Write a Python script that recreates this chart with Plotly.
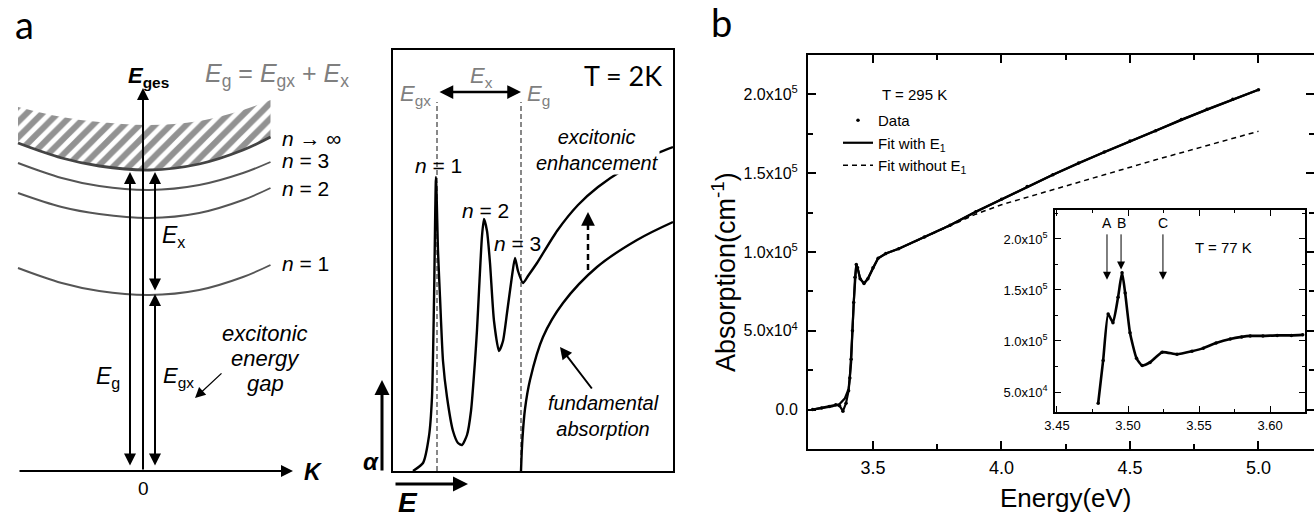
import plotly.graph_objects as go

W, H = 1314, 521

# ---------------- panel b : main spectrum, T = 295 K ----------------
data_energy = [3.265, 3.30, 3.33, 3.355, 3.37, 3.383, 3.395, 3.405, 3.41, 3.415, 3.42, 3.425,
               3.43, 3.435, 3.44, 3.45, 3.465, 3.48, 3.50, 3.52, 3.55, 3.60, 3.70, 3.80, 3.90,
               4.00, 4.10, 4.20, 4.30, 4.40, 4.50, 4.60, 4.70, 4.80, 4.90, 5.00]
data_absorption = [0, 1e3, 2e3, 3e3, 2.5e3, -1e3, 4e3, 1.2e4, 2.0e4, 3.2e4, 5.0e4, 6.8e4,
                   8.4e4, 9.2e4, 9.0e4, 8.3e4, 8.0e4, 8.3e4, 9.0e4, 9.6e4, 9.9e4, 1.02e5, 1.095e5,
                   1.17e5, 1.255e5, 1.335e5, 1.415e5, 1.49e5, 1.565e5, 1.635e5, 1.705e5, 1.77e5,
                   1.84e5, 1.905e5, 1.97e5, 2.03e5]
fit_with_energy = [3.265, 3.30, 3.34, 3.37, 3.39, 3.405, 3.415, 3.42, 3.425, 3.43, 3.435, 3.44,
                   3.45, 3.465, 3.48, 3.50, 3.52, 3.55, 3.60, 3.70, 3.80, 3.90, 4.00, 4.20, 4.40,
                   4.60, 4.80, 5.00]
fit_with_abs = [0, 1e3, 2e3, 3.5e3, 7e3, 1.3e4, 3.0e4, 5.0e4, 6.8e4, 8.4e4, 9.2e4, 9.0e4,
                8.3e4, 8.0e4, 8.3e4, 9.0e4, 9.6e4, 9.9e4, 1.02e5, 1.095e5, 1.17e5, 1.255e5,
                1.335e5, 1.49e5, 1.635e5, 1.77e5, 1.905e5, 2.03e5]
fit_without_energy = [3.60, 3.70, 3.80, 3.90, 4.00, 4.20, 4.40, 4.60, 4.80, 5.00]
fit_without_abs = [1.02e5, 1.095e5, 1.168e5, 1.24e5, 1.30e5, 1.397e5, 1.49e5,
                   1.585e5, 1.675e5, 1.766e5]
main_xticks = [3.5, 4.0, 4.5, 5.0]
main_xtick_text = ["3.5", "4.0", "4.5", "5.0"]
main_xminor = [3.75, 4.25, 4.75]
main_yticks = [0, 5e4, 1e5, 1.5e5, 2e5]
main_ytick_text = ["0.0", "5.0x10<sup>4</sup>", "1.0x10<sup>5</sup>",
                   "1.5x10<sup>5</sup>", "2.0x10<sup>5</sup>"]
main_yminor = [2.5e4, 7.5e4, 1.25e5, 1.75e5]

# ---------------- panel b : inset, T = 77 K ----------------
inset_energy = [3.479, 3.4825, 3.486, 3.4894, 3.493, 3.4958, 3.498, 3.5014, 3.506, 3.510,
                3.5155, 3.524, 3.5345, 3.545, 3.553, 3.562, 3.572, 3.58, 3.586, 3.595, 3.605,
                3.615, 3.623]
inset_abs = [3.9e4, 8.1e4, 1.265e5, 1.18e5, 1.43e5, 1.67e5, 1.47e5, 1.08e5, 8.3e4, 7.6e4,
             7.9e4, 8.9e4, 8.7e4, 9.0e4, 9.3e4, 9.8e4, 1.02e5, 1.04e5, 1.05e5, 1.05e5, 1.055e5,
             1.055e5, 1.06e5]
inset_xticks = [3.45, 3.50, 3.55, 3.60]
inset_xtick_text = ["3.45", "3.50", "3.55", "3.60"]
inset_xminor = [3.475, 3.525, 3.575]
inset_yticks = [5e4, 1e5, 1.5e5, 2e5]
inset_ytick_text = ["5.0x10<sup>4</sup>", "1.0x10<sup>5</sup>", "1.5x10<sup>5</sup>",
                    "2.0x10<sup>5</sup>"]
inset_yminor = [7.5e4, 1.25e5, 1.75e5, 2.25e5]
peak_labels = ["A", "B", "C"]
peak_energy = [3.4852, 3.4951, 3.5246]
peak_tip = [1.60e5, 1.70e5, 1.60e5]
peak_tail = 2.06e5
peak_label_y = 2.16e5

# ---------------- panel a : dispersion schematic ----------------
K_pts = [-1.0, -0.65, -0.35, 0.05, 0.45, 0.8, 1.02]
level_n1 = [2.03, 1.88, 1.80, 1.76, 1.81, 1.94, 2.06]
level_n2 = [2.78, 2.64, 2.57, 2.53, 2.58, 2.71, 2.83]
level_n3 = [3.08, 2.93, 2.85, 2.81, 2.86, 2.98, 3.09]
level_ninf = [3.28, 3.13, 3.05, 3.01, 3.07, 3.21, 3.34]
continuum_top = [3.64, 3.54, 3.49, 3.46, 3.50, 3.61, 3.71]

# ---------------- panel a : absorption schematic ----------------
abs_E = [0.20, 0.30, 0.36, 0.39, 0.41, 0.43, 0.45, 0.47, 0.50, 0.54, 0.60, 0.65, 0.69, 0.74,
         0.78, 0.82, 0.84, 0.86, 0.89, 0.91, 0.94, 0.97, 1.01, 1.06, 1.10, 1.14, 1.19, 1.22,
         1.25, 1.30, 1.35, 1.44, 1.64, 1.85, 2.05, 2.30, 2.55, 2.80]
abs_alpha = [0.0, 0.08, 0.35, 0.74, 1.7, 2.94, 2.2, 1.74, 1.1, 0.74, 0.40, 0.28, 0.26, 0.36,
             0.6, 1.1, 1.41, 1.8, 2.35, 2.52, 2.4, 2.08, 1.5, 1.20, 1.30, 1.58, 1.95, 2.13,
             2.0, 1.88, 1.95, 2.08, 2.40, 2.66, 2.84, 3.01, 3.14, 3.24]
fund_E = [1.28, 1.295, 1.32, 1.37, 1.50, 1.70, 2.04, 2.44, 2.80]
fund_alpha = [0.0, 0.33, 0.62, 0.91, 1.34, 1.68, 2.04, 2.31, 2.49]
E_gx_pos, E_g_pos, marker_top = 0.44, 1.28, 3.69


def px(x):
    return x / W


def py(y):
    return 1 - y / H


SANS = "Liberation Sans, Arial, sans-serif"
CAL = "Lato, Open Sans, sans-serif"
GRAY = "#7f7f7f"

fig = go.Figure()

# ---- panel b main ----
fig.add_trace(go.Scatter(x=fit_without_energy, y=fit_without_abs, mode="lines",
                         name="Fit without E<sub>1</sub>",
                         line=dict(color="black", width=1.5, dash="5px,4px"), legendrank=3,
                         xaxis="x", yaxis="y"))
fig.add_trace(go.Scatter(x=fit_with_energy, y=fit_with_abs, mode="lines", name="Fit with E<sub>1</sub>",
                         line=dict(color="black", width=2.2), legendrank=2, xaxis="x", yaxis="y"))
fig.add_trace(go.Scatter(x=data_energy, y=data_absorption, mode="lines", showlegend=False,
                         line=dict(color="black", width=2.2), xaxis="x", yaxis="y"))
fig.add_trace(go.Scatter(x=data_energy, y=data_absorption, mode="markers", name="Data",
                         marker=dict(color="black", size=3.5), legendrank=1, xaxis="x", yaxis="y"))

# ---- inset ----
fig.add_trace(go.Scatter(x=inset_energy, y=inset_abs, mode="lines+markers", showlegend=False,
                         line=dict(color="black", width=2.6, shape="spline", smoothing=0.5),
                         marker=dict(color="black", size=3.5), xaxis="x2", yaxis="y2"))

# ---- schematic: dispersion ----
fig.add_trace(go.Scatter(x=K_pts, y=continuum_top, mode="lines", showlegend=False,
                         line=dict(width=0, shape="spline"), xaxis="x3", yaxis="y3"))
fig.add_trace(go.Scatter(x=K_pts, y=level_ninf, mode="lines", showlegend=False, fill="tonexty",
                         fillcolor="rgba(0,0,0,0)",
                         fillpattern=dict(shape="/", fgcolor="#262626", bgcolor="white",
                                          size=11, solidity=0.55),
                         line=dict(color="#444444", width=2.8, shape="spline"),
                         xaxis="x3", yaxis="y3"))
for lv in (level_n3, level_n2, level_n1):
    fig.add_trace(go.Scatter(x=K_pts, y=lv, mode="lines", showlegend=False,
                             line=dict(color="#555555", width=1.9, shape="spline"),
                             xaxis="x3", yaxis="y3"))

# ---- schematic: absorption ----
for xv in (E_gx_pos, E_g_pos):
    fig.add_trace(go.Scatter(x=[xv, xv], y=[0, marker_top], mode="lines", showlegend=False,
                             line=dict(color="#888888", width=2, dash="5px,3px"),
                             xaxis="x4", yaxis="y4"))
fig.add_trace(go.Scatter(x=abs_E, y=abs_alpha, mode="lines", showlegend=False,
                         line=dict(color="black", width=2.4, shape="spline", smoothing=0.6),
                         xaxis="x4", yaxis="y4"))
fig.add_trace(go.Scatter(x=fund_E, y=fund_alpha, mode="lines", showlegend=False,
                         line=dict(color="black", width=2.4, shape="spline", smoothing=1.0),
                         xaxis="x4", yaxis="y4"))
fig.add_trace(go.Scatter(x=[1.95, 1.95], y=[2.01, 2.47], mode="lines", showlegend=False,
                         line=dict(color="black", width=2.5, dash="6px,4px"),
                         xaxis="x4", yaxis="y4"))

ann = []


def text(x, y, t, size, color="black", family=SANS, xanchor="center", **kw):
    ann.append(dict(x=px(x), y=py(y), xref="paper", yref="paper", text=t, showarrow=False,
                    xanchor=xanchor, yanchor="middle", font=dict(size=size, color=color, family=family),
                    **kw))


def arrow(ref, x0, y0, x1, y1, width=2, size=1.2, both=False, head=2):
    a = dict(x=x1, y=y1, ax=x0, ay=y0, xref="x" + ref, yref="y" + ref, axref="x" + ref,
             ayref="y" + ref, text="", showarrow=True, arrowhead=head, arrowsize=size,
             arrowwidth=width, arrowcolor="black", standoff=0, startstandoff=0)
    if both:
        a.update(arrowside="end+start", startarrowhead=head, startarrowsize=size)
    ann.append(a)


def paper_arrow(x1, y1, dx, dy, width=3, size=1.0):
    ann.append(dict(x=px(x1), y=py(y1), xref="paper", yref="paper", ax=dx, ay=dy, text="",
                    showarrow=True, arrowhead=2, arrowsize=size, arrowwidth=width,
                    arrowcolor="black", standoff=0))


# panel labels
text(24, 24, "a", 38, family=CAL)
text(721, 22, "b", 38, family=CAL)

# dispersion schematic
arrow("3", -1.0, 0, 1.2, 0, width=2, size=1.2)
arrow("3", 0, 0, 0, 3.83, width=2, size=1.2)
arrow("3", -0.104, 0.04, -0.104, 2.99, width=2, size=1.2, both=True)
arrow("3", 0.096, 1.79, 0.096, 2.99, width=2, size=1.2, both=True)
arrow("3", 0.096, 0.04, 0.096, 1.77, width=2, size=1.2, both=True)
arrow("3", 0.64, 0.99, 0.416, 0.73, width=1.3, size=1.6)
text(148, 77, "<b><i>E</i><sub>ges</sub></b>", 22)
text(277, 75, "<i>E</i><sub>g</sub> = <i>E</i><sub>gx</sub> + <i>E</i><sub>x</sub>", 25, color=GRAY)
text(280, 138, "<i>n</i> → ∞", 21, xanchor="left")
text(280, 160, "<i>n</i> = 3", 21, xanchor="left")
text(280, 188, "<i>n</i> = 2", 21, xanchor="left")
text(280, 263, "<i>n</i> = 1", 21, xanchor="left")
text(173, 237, "<i>E</i><sub>x</sub>", 23)
text(108, 377, "<i>E</i><sub>g</sub>", 23)
text(178, 377, "<i>E</i><sub>gx</sub>", 22)
text(265, 333, "<i>excitonic</i>", 22)
text(265, 358, "<i>energy</i>", 22)
text(265, 383, "<i>gap</i>", 22)
text(143, 488, "0", 19)
text(313, 472, "<b><i>K</i></b>", 23)

# absorption schematic
arrow("4", E_gx_pos + 0.01, 3.79, E_g_pos, 3.79, width=2.5, size=1.1, both=True)
arrow("4", 1.95, 2.47, 1.95, 2.59, width=2.5, size=1.1)
arrow("4", 2.00, 0.81, 1.67, 1.24, width=2, size=1.2)
paper_arrow(382, 380, 0, 92, width=3, size=1.0)
paper_arrow(468, 484, -74, 0, width=3, size=1.0)
text(433, 95, "<i>E</i><sub>gx</sub>", 22, color=GRAY, xanchor="right")
text(525, 95, "<i>E</i><sub>g</sub>", 22, color=GRAY, xanchor="left")
text(481, 77, "<i>E</i><sub>x</sub>", 22, color=GRAY)
text(623, 75, "T = 2K", 27, family=CAL)
text(438, 165, "<i>n</i> = 1", 21)
text(485, 210, "<i>n</i> = 2", 21)
text(517, 243, "<i>n</i> = 3", 21)
text(597, 150, "<i>excitonic<br>enhancement</i>", 20, bgcolor="white", borderpad=0)
text(603, 416, "<i>fundamental<br>absorption</i>", 20)
text(371, 461, "<b><i>α</i></b>", 24)
text(408, 502, "<b><i>E</i></b>", 28)

# panel b texts
text(914, 94, "T = 295 K", 15)
text(1066, 498, "Energy(eV)", 26)
text(724, 272, "Absorption(cm<sup>-1</sup>)", 27, textangle=-90)

# inset arrows and labels
for lab, e, tip in zip(peak_labels, peak_energy, peak_tip):
    ann.append(dict(x=e, y=tip, ax=e, ay=peak_tail, xref="x2", yref="y2", axref="x2", ayref="y2",
                    text="", showarrow=True, arrowhead=2, arrowsize=1.6, arrowwidth=1,
                    arrowcolor="black", standoff=0))
    ann.append(dict(x=e, y=peak_label_y, xref="x2", yref="y2", text=lab, showarrow=False,
                    font=dict(size=14, family=SANS, color="black")))
ann.append(dict(x=3.567, y=1.92e5, xref="x2", yref="y2", text="T = 77 K", showarrow=False,
                font=dict(size=15, family=SANS, color="black")))

axis_common = dict(showline=True, linecolor="black", showgrid=False, zeroline=False,
                   automargin=False, ticks="inside", tickcolor="black")

fig.update_layout(
    width=W, height=H, margin=dict(l=0, r=0, t=0, b=0),
    paper_bgcolor="white", plot_bgcolor="white",
    font=dict(family=SANS, color="black"),
    showlegend=True,
    legend=dict(x=px(838), y=py(104), xanchor="left", yanchor="top", bgcolor="rgba(0,0,0,0)",
                font=dict(size=15, family=SANS, color="black"), tracegroupgap=0, itemwidth=30,
                traceorder="normal"),
    xaxis=dict(domain=[px(808), 1.0], range=[3.2471, 5.216], anchor="y", mirror="ticks",
               linewidth=2, ticklen=8, tickwidth=1.5, tickvals=main_xticks, ticktext=main_xtick_text,
               tickfont=dict(size=18), ticklabelstandoff=1,
               minor=dict(ticks="inside", ticklen=5, tickwidth=1.5, tickvals=main_xminor,
                          tickcolor="black"),
               **axis_common),
    yaxis=dict(domain=[py(449), py(55)], range=[-2.5e4, 2.25e5], anchor="x", mirror="ticks",
               linewidth=2, ticklen=8, tickwidth=1.5, tickvals=main_yticks, ticktext=main_ytick_text,
               tickfont=dict(size=16), ticklabelstandoff=5,
               minor=dict(ticks="inside", ticklen=5, tickwidth=1.5, tickvals=main_yminor,
                          tickcolor="black"),
               **axis_common),
    xaxis2=dict(domain=[px(1055), px(1305)], range=[3.4486, 3.6246], anchor="y2", mirror="ticks",
                linewidth=1.5, ticklen=6, tickwidth=1.2, tickvals=inset_xticks,
                ticktext=inset_xtick_text, tickfont=dict(size=13), ticklabelstandoff=1,
                minor=dict(ticks="inside", ticklen=3, tickwidth=1.2, tickvals=inset_xminor,
                           tickcolor="black"),
                **axis_common),
    yaxis2=dict(domain=[py(412), py(210)], range=[3.04e4, 2.284e5], anchor="x2", mirror="ticks",
                linewidth=1.5, ticklen=6, tickwidth=1.2, tickvals=inset_yticks,
                ticktext=inset_ytick_text, tickfont=dict(size=13), ticklabelstandoff=3,
                minor=dict(ticks="inside", ticklen=3, tickwidth=1.2, tickvals=inset_yminor,
                           tickcolor="black"),
                **axis_common),
    xaxis3=dict(domain=[0, px(368)], range=[-1.144, 1.8], anchor="y3", visible=False),
    yaxis3=dict(domain=[0, 1], range=[-0.5, 4.71], anchor="x3", visible=False),
    xaxis4=dict(domain=[px(393), px(673)], range=[0, 2.8], anchor="y4", showline=True,
                mirror=True, linewidth=2, linecolor="black", showticklabels=False, ticks="",
                showgrid=False, zeroline=False),
    yaxis4=dict(domain=[py(471), py(50)], range=[0, 4.21], anchor="x4", showline=True,
                mirror=True, linewidth=2, linecolor="black", showticklabels=False, ticks="",
                showgrid=False, zeroline=False),
    annotations=ann,
)

fig.write_html("out.html", config={"displayModeBar": False},
               post_script="document.body.style.margin='0';document.body.style.overflow='hidden';")
